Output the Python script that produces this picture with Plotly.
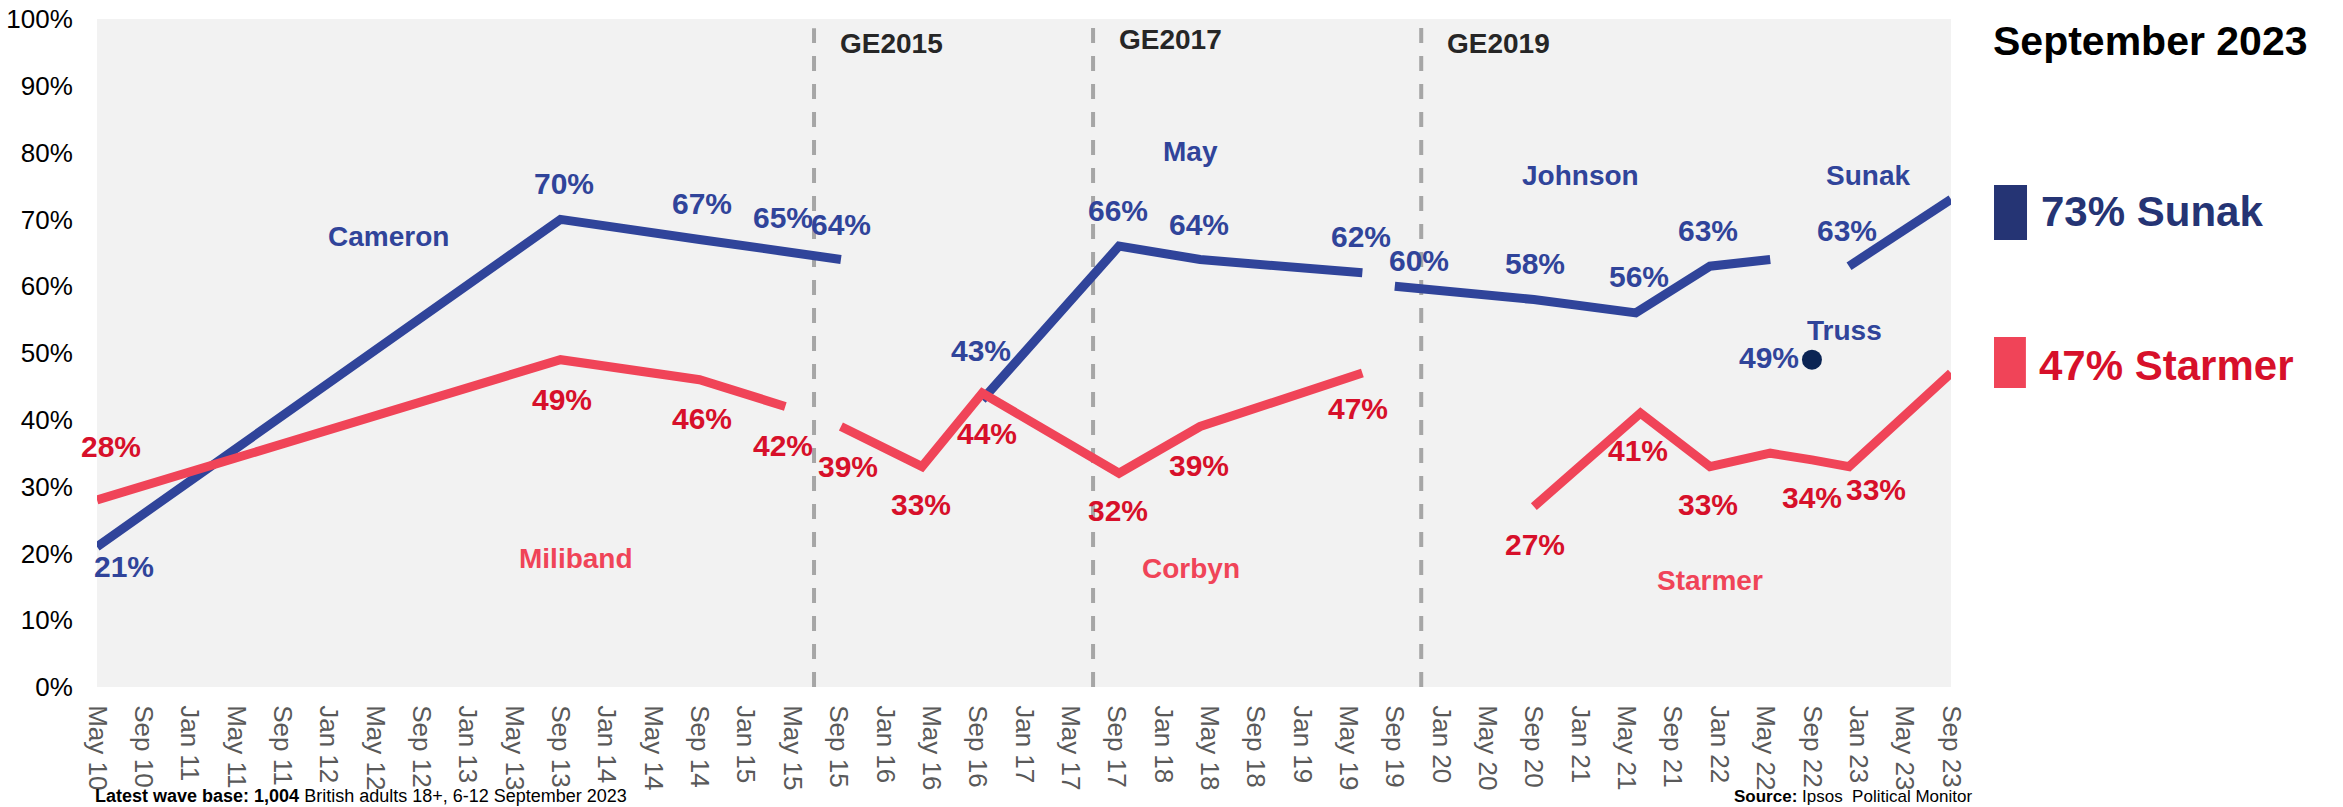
import plotly.graph_objects as go

# ---------------- data ----------------
tick_labels = ["May 10", "Sep 10", "Jan 11", "May 11", "Sep 11", "Jan 12", "May 12", "Sep 12",
               "Jan 13", "May 13", "Sep 13", "Jan 14", "May 14", "Sep 14", "Jan 15", "May 15",
               "Sep 15", "Jan 16", "May 16", "Sep 16", "Jan 17", "May 17", "Sep 17", "Jan 18",
               "May 18", "Sep 18", "Jan 19", "May 19", "Sep 19", "Jan 20", "May 20", "Sep 20",
               "Jan 21", "May 21", "Sep 21", "Jan 22", "May 22", "Sep 22", "Jan 23", "May 23",
               "Sep 23"]
tick_pos = list(range(len(tick_labels)))

# Conservative leaders (position on the wave axis, % satisfied)
cameron_x = [0, 10, 13, 14.85, 16.05]
cameron_v = [21, 70, 67, 65, 64]
may_x = [19.1, 22.05, 23.8, 27.3]
may_v = [43, 66, 64, 62]
johnson_x = [28.0, 31.0, 33.2, 34.8, 36.1]
johnson_v = [60, 58, 56, 63, 64]
truss_x = [37.0]
truss_v = [49]
sunak_x = [37.8, 40]
sunak_v = [63, 73]

# Labour leaders
miliband_x = [0, 10, 13, 14.85]
miliband_v = [28, 49, 46, 42]
corbyn_x = [16.05, 17.8, 19.1, 22.05, 23.8, 27.3]
corbyn_v = [39, 33, 44, 32, 39, 47]
starmer_x = [31.0, 33.3, 34.8, 36.1, 37.0, 37.8, 40]
starmer_v = [27, 41, 33, 35, 34, 33, 47]

elections = ["GE2015", "GE2017", "GE2019"]
election_x = [15.47, 21.49, 28.57]

latest_month = "September 2023"
latest_con = ("Sunak", 73)
latest_lab = ("Starmer", 47)

# ---------------- styles ----------------
BLUE = "#30449a"
BLUE_DARK = "#253474"
TRUSS = "#0b2454"
RED = "#f04458"
RED_TXT = "#d7102a"
FONT = "Liberation Sans, Arial, sans-serif"

# label offsets in px (dx right, dy down); None = no label
cameron_off = [(27, 20), (3, -36), (2, -36), (-2, -35), (0, -35)]
may_off = [(-1, -49), (-1, -36), (-1, -35), (-1, -36)]
johnson_off = [(24, -26), (1, -36), (3, -36), (-2, -36), None]
truss_off = [(-43, -2)]
sunak_off = [(-2, -36), None]
miliband_off = [(14, -53), (1, 40), (2, 39), (-2, 39)]
corbyn_off = [(7, 40), (-1, 38), (5, 40), (-1, 37), (-1, 39), (-4, 35)]
starmer_off = [(1, 38), (-2, 37), (-2, 38), None, (0, 38), (27, 23), None]

fig = go.Figure()

def add_line(xs, vs, color, name):
    fig.add_trace(go.Scatter(x=xs, y=vs, mode="lines", name=name,
                             line=dict(color=color, width=9),
                             hoverinfo="skip", showlegend=False))

for xs, vs, nm in [(cameron_x, cameron_v, "Cameron"), (may_x, may_v, "May"),
                   (johnson_x, johnson_v, "Johnson"), (sunak_x, sunak_v, "Sunak")]:
    add_line(xs, vs, BLUE, nm)
for xs, vs, nm in [(miliband_x, miliband_v, "Miliband"), (corbyn_x, corbyn_v, "Corbyn"),
                   (starmer_x, starmer_v, "Starmer")]:
    add_line(xs, vs, RED, nm)

fig.add_trace(go.Scatter(x=truss_x, y=truss_v, mode="markers", name="Truss",
                         marker=dict(color=TRUSS, size=20), showlegend=False,
                         hoverinfo="skip"))

annotations = []

def add_labels(xs, vs, offs, color):
    for x, v, off in zip(xs, vs, offs):
        if off is None:
            continue
        annotations.append(dict(x=x, y=v, xref="x", yref="y", text=f"<b>{v}%</b>",
                                showarrow=False, xshift=off[0], yshift=-off[1],
                                xanchor="center", yanchor="middle",
                                font=dict(family=FONT, size=30, color=color)))

add_labels(cameron_x, cameron_v, cameron_off, BLUE)
add_labels(may_x, may_v, may_off, BLUE)
add_labels(johnson_x, johnson_v, johnson_off, BLUE)
add_labels(truss_x, truss_v, truss_off, BLUE)
add_labels(sunak_x, sunak_v, sunak_off, BLUE)
add_labels(miliband_x, miliband_v, miliband_off, RED_TXT)
add_labels(corbyn_x, corbyn_v, corbyn_off, RED_TXT)
add_labels(starmer_x, starmer_v, starmer_off, RED_TXT)

# leader names
names = [("Cameron", 6.28, 67.4, BLUE), ("May", 23.6, 80.2, BLUE), ("Johnson", 32.0, 76.5, BLUE),
         ("Sunak", 38.2, 76.6, BLUE), ("Truss", 37.7, 53.4, BLUE),
         ("Miliband", 10.33, 19.2, RED), ("Corbyn", 23.6, 17.7, RED), ("Starmer", 34.8, 16.0, RED)]
for t, x, y, c in names:
    annotations.append(dict(x=x, y=y, xref="x", yref="y", text=f"<b>{t}</b>", showarrow=False,
                            xanchor="center", yanchor="middle",
                            font=dict(family=FONT, size=28, color=c)))

# election lines + labels
ge_top = [98.6, 99.5, 99.0]
ge_label_y = [96.4, 97.0, 96.4]
shapes = []
for name, gx, top, ly in zip(elections, election_x, ge_top, ge_label_y):
    shapes.append(dict(type="line", xref="x", yref="y", x0=gx, x1=gx, y0=0, y1=top,
                       line=dict(color="#a6a6a6", width=4, dash="15px,13px"), layer="below"))
    annotations.append(dict(x=gx, y=ly, xref="x", yref="y", text=f"<b>{name}</b>",
                            showarrow=False, xanchor="left", yanchor="middle", xshift=24,
                            font=dict(family=FONT, size=28, color="#262626")))

# right-hand summary
annotations.append(dict(x=1.0216, y=0.967, xref="paper", yref="paper",
                        text=f"<b>{latest_month}</b>", showarrow=False,
                        xanchor="left", yanchor="middle",
                        font=dict(family=FONT, size=41, color="#000000")))
shapes.append(dict(type="rect", xref="paper", yref="paper", x0=1.0232, x1=1.0410,
                   y0=0.6692, y1=0.7515, fillcolor=BLUE_DARK, line=dict(width=0)))
shapes.append(dict(type="rect", xref="paper", yref="paper", x0=1.0232, x1=1.0404,
                   y0=0.4476, y1=0.5240, fillcolor=RED, line=dict(width=0)))
annotations.append(dict(x=1.0475, y=0.712, xref="paper", yref="paper",
                        text=f"<b>{latest_con[1]}% {latest_con[0]}</b>", showarrow=False,
                        xanchor="left", yanchor="middle",
                        font=dict(family=FONT, size=42, color=BLUE_DARK)))
annotations.append(dict(x=1.0465, y=0.481, xref="paper", yref="paper",
                        text=f"<b>{latest_lab[1]}% {latest_lab[0]}</b>", showarrow=False,
                        xanchor="left", yanchor="middle",
                        font=dict(family=FONT, size=42, color=RED_TXT)))

# footnotes
annotations.append(dict(x=-0.0016, y=-0.1796, xref="paper", yref="paper",
                        text="<b>Latest wave base: 1,004</b> British adults 18+, 6-12 September 2023",
                        showarrow=False, xanchor="left", yanchor="bottom", borderpad=0,
                        font=dict(family=FONT, size=18, color="#000000")))
annotations.append(dict(x=1.0119, y=-0.1796, xref="paper", yref="paper",
                        text="<b>Source:</b> Ipsos  Political Monitor",
                        showarrow=False, xanchor="right", yanchor="bottom", borderpad=0,
                        font=dict(family=FONT, size=17, color="#000000")))

fig.update_layout(
    width=2343, height=807,
    margin=dict(l=97, r=392, t=19, b=120, autoexpand=False),
    paper_bgcolor="white", plot_bgcolor="#f2f2f2",
    shapes=shapes, annotations=annotations,
    xaxis=dict(range=[0, 40], tickmode="array", tickvals=tick_pos, ticktext=tick_labels,
               tickangle=90, showgrid=False, zeroline=False, showline=False,
               ticks="outside", ticklen=12, tickcolor="rgba(0,0,0,0)",
               tickfont=dict(family=FONT, size=26, color="#595959"), automargin=False),
    yaxis=dict(range=[0, 100], tickmode="array", tickvals=list(range(0, 101, 10)),
               ticktext=[f"{v}%" for v in range(0, 101, 10)],
               showgrid=False, zeroline=False, showline=False,
               ticks="outside", ticklen=18, tickcolor="rgba(0,0,0,0)",
               tickfont=dict(family=FONT, size=26, color="#000000"), automargin=False),
    showlegend=False,
)

fig.write_html("out.html", config={"displayModeBar": False},
               post_script="document.body.style.margin='0';document.body.style.overflow='hidden';")
